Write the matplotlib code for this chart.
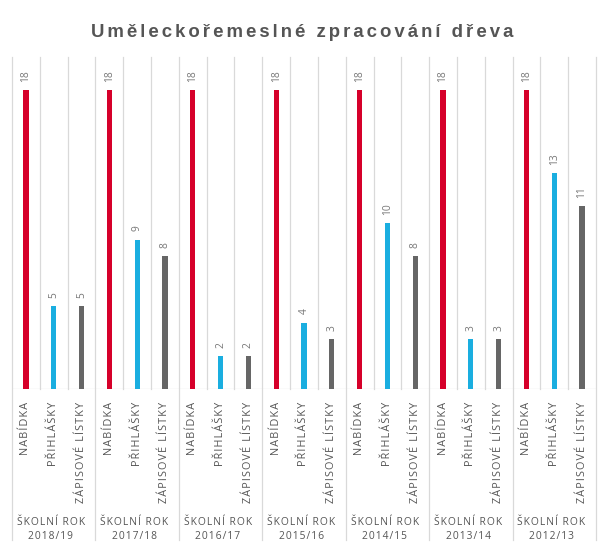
import matplotlib
matplotlib.use("Agg")
import matplotlib.pyplot as plt

title = "Uměleckořemeslné zpracování dřeva"
years = ["2018/19", "2017/18", "2016/17", "2015/16", "2014/15", "2013/14", "2012/13"]
categories = ["NABÍDKA", "PŘIHLÁŠKY", "ZÁPISOVÉ LÍSTKY"]
nabidka = [18, 18, 18, 18, 18, 18, 18]
prihlasky = [5, 9, 2, 4, 10, 3, 13]
zapisove = [5, 8, 2, 3, 8, 3, 11]
colors = ["#d6002a", "#1aaee0", "#666666"]

W, H = 605, 553
fig = plt.figure(figsize=(W / 100, H / 100), dpi=100)
ax_l, ax_r, ax_t, ax_b = 12, 596, 57, 389
ax = fig.add_axes([ax_l / W, 1 - ax_b / H, (ax_r - ax_l) / W, (ax_b - ax_t) / H])

n = len(years)
series = [nabidka, prihlasky, zapisove]
grid_c = "#d9d9d9"
txt_c = "#555555"
font = ["Open Sans", "DejaVu Sans"]

def spaced(s, sep="\u200a"):
    return sep.join(s)

for g in range(n):
    for k, vals in enumerate(series):
        x = g * 3 + k
        v = vals[g]
        ax.bar(x, v, width=0.19, color=colors[k], zorder=3)
        ax.text(x, v + 0.5, str(v), rotation=90, ha="center", va="bottom",
                fontsize=7.4, color="#777777", family=font)
        ax.text(x, -0.75, spaced(categories[k]), rotation=90, ha="center", va="top",
                fontsize=7.8, color=txt_c, family=font)
    ax.text(g * 3 + 0.9, -7.72, spaced("ŠKOLNÍ ROK", "\u200a") + "\n" + spaced(years[g], "\u200a"),
            ha="center", va="top", fontsize=7.4, color=txt_c, family=font,
            linespacing=1.3)

trans = ax.get_xaxis_transform()
for i in range(3 * n + 1):
    xb = i - 0.5
    if i % 3 == 0:
        ax.plot([xb, xb], [1, -(540 - ax_b) / (ax_b - ax_t)], color=grid_c, lw=0.9,
                transform=trans, clip_on=False, zorder=1)
    else:
        ax.plot([xb, xb], [0, 1], color=grid_c, lw=0.9, transform=trans,
                clip_on=False, zorder=1)
ax.axhline(0, color=grid_c, lw=0.9, zorder=2)

ax.set_xlim(-0.5, 3 * n - 0.5)
ax.set_ylim(0, 20)
ax.axis("off")

fig.text(0.5, 1 - 32.5 / H, spaced(title, "\u200a\u200a"), ha="center", va="center",
         fontsize=13.4, fontweight="bold", color="#555555",
         family=["Liberation Sans", "DejaVu Sans"])

fig.savefig("out.png", dpi=100)
